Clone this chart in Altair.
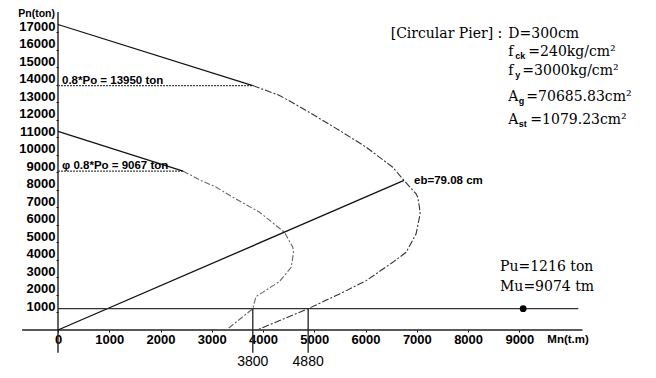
import altair as alt
import pandas as pd

# ---------------- data ----------------
# nominal interaction curve (Mn [t.m], Pn [ton])
outer_mn = [0, 3800, 4321, 4842, 5491, 6012, 6530, 6750, 6986, 7018, 7051, 7064, 6986, 6791, 6530, 6012, 5491, 4880, 3880]
outer_pn = [17437, 13950, 13389, 12531, 11389, 10434, 9291, 8535, 7771, 7577, 7006, 6629, 5486, 4434, 3863, 2817, 2057, 1216, 0]
# design (phi) interaction curve
inner_mn = [0, 2440, 2790, 3088, 3411, 3932, 4419, 4581, 4595, 4549, 4322, 3860, 3800, 3283]
inner_pn = [11334, 9067, 8531, 8149, 7577, 6720, 5577, 4720, 4434, 3577, 2770, 1900, 1216, 0]
# balanced eccentricity line
eb_mn = [0, 6750]
eb_pn = [0, 8535]
eb_label = "eb=79.08 cm"
# limits
p08_value = 13950
p08_corner = 3800
p08_label = "0.8*Po = 13950 ton"
phi_p08_value = 9067
phi_corner = 2440
phi_label = "\u03c6  0.8*Po = 9067 ton"
# applied load
pu_value = 1216
mu_value = 9074
pu_line_end = 10150
crossing_mn = [3800, 4880]
crossing_labels = ["3800", "4880"]
load_text = ["Pu=1216 ton", "Mu=9074 tm"]
# axes
x_ticks = [0, 1000, 2000, 3000, 4000, 5000, 6000, 7000, 8000, 9000]
y_ticks = [1000, 2000, 3000, 4000, 5000, 6000, 7000, 8000, 9000, 10000,
           11000, 12000, 13000, 14000, 15000, 16000, 17000]
x_max = 10300
y_max = 18150
x_axis_ext = [-700, 10230]
y_axis_ext = [-1300, 18150]

# section properties text
spec_lines = [
    # (main, subscript, rest)
    ("f", "ck", "=240kg/cm\u00b2"),
    ("f", "y", "=3000kg/cm\u00b2"),
    ("A", "g", "=70685.83cm\u00b2"),
    ("A", "st", "=1079.23cm\u00b2"),
]

# ---------------- layout ----------------
W, H = 528, 318
ppx = W / x_max   # pixels per t.m

xs = alt.Scale(domain=[0, x_max], nice=False, zero=False)
ys = alt.Scale(domain=[0, y_max], nice=False, zero=False)
SANS = "Liberation Sans"
SERIF = "DejaVu Serif"
xaxis = alt.Axis(values=x_ticks, format="d", domain=False, grid=False, tickSize=2, tickColor="black",
                 labelFont=SANS, labelFontWeight="bold", labelFontSize=13, labelColor="black",
                 labelPadding=1, title=None, labelFlush=False, labelOverlap=False)
yaxis = alt.Axis(values=y_ticks, format="d", domain=False, grid=False, tickSize=2, tickColor="black",
                 labelFont=SANS, labelFontWeight="bold", labelFontSize=13, labelColor="black",
                 labelPadding=1, labelOffset=-6, title=None, labelFlush=False, labelOverlap=False)


def X(f="mn"):
    return alt.X(f"{f}:Q", scale=xs, axis=xaxis)


def Y(f="pn"):
    return alt.Y(f"{f}:Q", scale=ys, axis=yaxis)


def curve_df(mn, pn):
    return pd.DataFrame({"mn": mn, "pn": pn, "seq": list(range(len(mn)))})


layers = []

# axis lines (extended past the origin)
layers.append(alt.Chart(pd.DataFrame({"mn": [x_axis_ext[0]], "mn2": [x_axis_ext[1]], "pn": [0]}))
              .mark_rule(color="#222", strokeWidth=1.6)
              .encode(x=X(), x2="mn2:Q", y=Y()))
layers.append(alt.Chart(pd.DataFrame({"mn": [0], "pn": [y_axis_ext[0]], "pn2": [y_axis_ext[1]]}))
              .mark_rule(color="#222", strokeWidth=1.4)
              .encode(x=X(), y=Y(), y2="pn2:Q"))

# 0.8Po limit lines
lim = pd.DataFrame({"mn": [0, 0], "mn2": [p08_corner, phi_corner], "pn": [p08_value, phi_p08_value]})
layers.append(alt.Chart(lim).mark_rule(color="#444", strokeWidth=1.4, strokeDash=[2, 1])
              .encode(x=X(), x2="mn2:Q", y=Y()))

# top solid segments
layers.append(alt.Chart(curve_df(outer_mn[:2], outer_pn[:2])).mark_line(color="#111", strokeWidth=1.2)
              .encode(x=X(), y=Y(), order="seq:Q"))
layers.append(alt.Chart(curve_df(inner_mn[:2], inner_pn[:2])).mark_line(color="#111", strokeWidth=1.2)
              .encode(x=X(), y=Y(), order="seq:Q"))
# curves
layers.append(alt.Chart(curve_df(outer_mn[1:], outer_pn[1:]))
              .mark_line(color="#333", strokeWidth=1.1, strokeDash=[7, 2, 2, 2])
              .encode(x=X(), y=Y(), order="seq:Q"))
layers.append(alt.Chart(curve_df(inner_mn[1:], inner_pn[1:]))
              .mark_line(color="#666", strokeWidth=1.1, strokeDash=[6, 2, 2, 2])
              .encode(x=X(), y=Y(), order="seq:Q"))
# eb line
layers.append(alt.Chart(curve_df(eb_mn, eb_pn)).mark_line(color="#111", strokeWidth=1.3)
              .encode(x=X(), y=Y(), order="seq:Q"))

# applied load line, crossings, point
layers.append(alt.Chart(pd.DataFrame({"mn": [0], "mn2": [pu_line_end], "pn": [pu_value]}))
              .mark_rule(color="#333", strokeWidth=1.3)
              .encode(x=X(), x2="mn2:Q", y=Y()))
layers.append(alt.Chart(pd.DataFrame({"mn": crossing_mn, "pn": [pu_value] * 2, "pn2": [y_axis_ext[0]] * 2}))
              .mark_rule(color="#222", strokeWidth=1.3)
              .encode(x=X(), y=Y(), y2="pn2:Q"))
layers.append(alt.Chart(pd.DataFrame({"mn": [mu_value], "pn": [pu_value]}))
              .mark_point(filled=True, color="black", size=45, opacity=1)
              .encode(x=X(), y=Y()))

# --- texts ---
sans_bold = dict(font=SANS, fontWeight="bold", color="black")
layers.append(alt.Chart(pd.DataFrame({"mn": [0], "pn": [18036], "t": ["Pn(ton)"]}))
              .mark_text(align="right", baseline="middle", dx=-3, fontSize=10.5, **sans_bold)
              .encode(x=X(), y=Y(), text="t:N"))
layers.append(alt.Chart(pd.DataFrame({"mn": [9546], "pn": [0], "t": ["Mn(t.m)"]}))
              .mark_text(align="left", baseline="middle", dy=10, fontSize=11.5, **sans_bold)
              .encode(x=X(), y=Y(), text="t:N"))
layers.append(alt.Chart(pd.DataFrame({"mn": [0, 0], "pn": [p08_value, phi_p08_value], "t": [p08_label, phi_label]}))
              .mark_text(align="left", baseline="alphabetic", dx=4, dy=-2, fontSize=11.5, **sans_bold)
              .encode(x=X(), y=Y(), text="t:N"))
layers.append(alt.Chart(pd.DataFrame({"mn": [eb_mn[1]], "pn": [eb_pn[1]], "t": [eb_label]}))
              .mark_text(align="left", baseline="middle", dx=10, dy=1, fontSize=11.5, **sans_bold)
              .encode(x=X(), y=Y(), text="t:N"))
layers.append(alt.Chart(pd.DataFrame({"mn": crossing_mn, "pn": [-1850, -1850], "t": crossing_labels}))
              .mark_text(align="center", baseline="middle", font=SANS, fontSize=14, color="black")
              .encode(x=X(), y=Y(), text="t:N"))

# serif: load text
layers.append(alt.Chart(pd.DataFrame({"mn": [8623, 8623], "pn": [3573, 2471], "t": load_text}))
              .mark_text(align="left", baseline="middle", font=SERIF, fontSize=14, color="black")
              .encode(x=X(), y=Y(), text="t:N"))

# serif: section properties
anchor = 8785
line_pn = [15844, 14799, 13300, 12000]
sub_off = [7, 7, 10.5, 10.5]
rest_off = [20, 14, 18, 22]
main_rows, sub_rows, rest_rows = [], [], []
for (m, s, r), p, so, ro in zip(spec_lines, line_pn, sub_off, rest_off):
    main_rows.append({"mn": anchor, "pn": p, "t": m})
    sub_rows.append({"mn": anchor + so / ppx, "pn": p, "t": s})
    rest_rows.append({"mn": anchor + ro / ppx, "pn": p, "t": r})
main_rows.append({"mn": anchor, "pn": 16894, "t": "D=300cm"})
layers.append(alt.Chart(pd.DataFrame({"mn": [anchor], "pn": [16894], "t": ["[Circular Pier] :"]}))
              .mark_text(align="right", baseline="middle", dx=-6, font=SERIF, fontSize=14, color="black")
              .encode(x=X(), y=Y(), text="t:N"))
layers.append(alt.Chart(pd.DataFrame(main_rows + rest_rows))
              .mark_text(align="left", baseline="middle", font=SERIF, fontSize=14, color="black")
              .encode(x=X(), y=Y(), text="t:N"))
layers.append(alt.Chart(pd.DataFrame(sub_rows))
              .mark_text(align="left", baseline="middle", dy=4, font=SANS, fontWeight="bold", fontSize=9, color="black")
              .encode(x=X(), y=Y(), text="t:N"))

chart = alt.layer(*layers).properties(
    width=W, height=H,
    padding={"left": 50, "top": 4, "right": 62, "bottom": 40},
    autosize=alt.AutoSizeParams(type="none"),
    background="white",
).configure_view(stroke=None)

chart.save("out.html", embed_options={"renderer": "svg", "actions": False})
